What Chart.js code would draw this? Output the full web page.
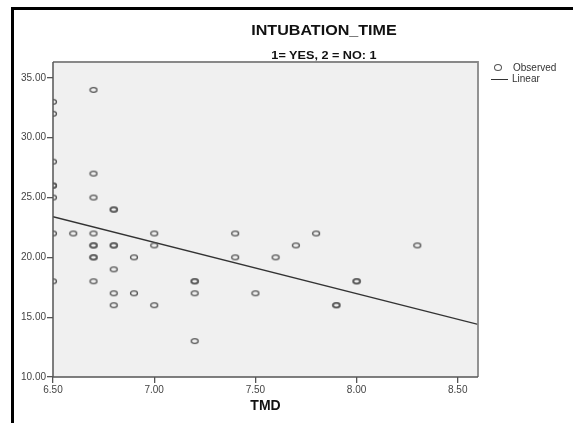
<!DOCTYPE html>
<html>
<head>
<meta charset="utf-8">
<script src="https://cdn.jsdelivr.net/npm/chart.js@4"></script>
<style>
  html, body { margin: 0; padding: 0; background: #fff; }
  body { width: 573px; height: 423px; position: relative; overflow: hidden; font-family: "Liberation Sans", Arial, sans-serif; }
  #frame { position: absolute; left: 11px; top: 7px; width: 620px; height: 500px; border: 3px solid #000; box-sizing: border-box; }
  #chart { position: absolute; left: 0; top: 0; }
  .title { position: absolute; left: 174px; width: 300px; text-align: center; font-weight: bold; color: #111; transform: scaleX(1.15); }
  #t1 { top: 21px; font-size: 14px; line-height: 18px; }
  #t2 { top: 48px; font-size: 11px; line-height: 14px; }
  .leg { position: absolute; font-size: 10px; line-height: 12px; color: #333; }
  .dot { position: absolute; left: 494px; top: 64px; width: 6px; height: 5px; border: 1.3px solid #555; border-radius: 50%; }
  .dash { position: absolute; left: 491px; top: 79px; width: 17px; height: 0; border-top: 1.3px solid #333; }
</style>
</head>
<body>
<div id="frame"></div>
<canvas id="chart" width="573" height="423"></canvas>
<div class="title" id="t1">INTUBATION_TIME</div>
<div class="title" id="t2">1= YES, 2 = NO: 1</div>
<div class="dot"></div>
<div class="leg" style="left:513px; top:62px;">Observed</div>
<div class="dash"></div>
<div class="leg" style="left:512px; top:73px;">Linear</div>
<script>
// Observed points (TMD vs intubation time)
const tmd = [
  6.5, 6.5, 6.5, 6.5, 6.5, 6.5, 6.5, 6.5,
  6.6,
  6.7, 6.7, 6.7, 6.7, 6.7, 6.7, 6.7, 6.7, 6.7,
  6.8, 6.8, 6.8, 6.8, 6.8, 6.8, 6.8,
  6.9, 6.9,
  7.0, 7.0, 7.0,
  7.2, 7.2, 7.2, 7.2,
  7.4, 7.4,
  7.5, 7.6, 7.7, 7.8,
  7.9, 7.9,
  8.0, 8.0,
  8.3
]
const intubationTime = [
  33, 32, 28, 26, 26, 25, 22, 18,
  22,
  34, 27, 25, 22, 21, 21, 20, 20, 18,
  24, 24, 21, 21, 19, 17, 16,
  20, 17,
  22, 21, 16,
  18, 18, 17, 13,
  22, 20,
  17, 20, 21, 22,
  16, 16,
  18, 18,
  21
]
// Linear fit line ends
const fitX = [6.5, 8.6]
const fitY = [23.4, 14.4]

const xTicks = [6.5, 7.0, 7.5, 8.0, 8.5]
const yTicks = [10, 15, 20, 25, 30, 35]

// elliptical marker like the original
function makeMarker() {
  const c = document.createElement("canvas")
  c.width = 10
  c.height = 8
  const g = c.getContext("2d")
  g.strokeStyle = "#555"
  g.lineWidth = 1.3
  g.beginPath()
  g.ellipse(5, 4, 3.5, 2.4, 0, 0, Math.PI * 2)
  g.stroke()
  return c
}

const plotBox = {
  id: "plotBox",
  beforeDraw(chart) {
    const { ctx, chartArea: a } = chart
    ctx.save()
    ctx.fillStyle = "#f0f0f0"
    ctx.fillRect(a.left, a.top, a.right - a.left, a.bottom - a.top)
    ctx.restore()
  },
  afterDatasetsDraw(chart) {
    const { ctx, chartArea: a } = chart
    ctx.save()
    ctx.strokeStyle = "#888"
    ctx.lineWidth = 1.8
    ctx.beginPath()
    ctx.moveTo(a.left, a.top)
    ctx.lineTo(a.right, a.top)
    ctx.lineTo(a.right, a.bottom)
    ctx.stroke()
    ctx.strokeStyle = "#555"
    ctx.lineWidth = 1.5
    ctx.beginPath()
    ctx.moveTo(a.left, a.top)
    ctx.lineTo(a.left, a.bottom)
    ctx.lineTo(a.right, a.bottom)
    ctx.stroke()
    ctx.restore()
  }
}

const tickFont = { family: "'Liberation Sans', Arial, sans-serif", size: 10 }

new Chart(document.getElementById("chart"), {
  type: "scatter",
  data: {
    datasets: [
      {
        label: "Observed",
        data: tmd.map((x, i) => ({ x: x, y: intubationTime[i] })),
        pointStyle: makeMarker(),
        pointRadius: 4
      },
      {
        label: "Linear",
        type: "line",
        data: fitX.map((x, i) => ({ x: x, y: fitY[i] })),
        borderColor: "#333",
        borderWidth: 1.4,
        pointRadius: 0,
        fill: false
      }
    ]
  },
  options: {
    responsive: false,
    animation: false,
    layout: { padding: { left: 0, top: 62, right: 95, bottom: 0 } },
    plugins: { legend: { display: false }, tooltip: { enabled: false } },
    scales: {
      x: {
        type: "linear",
        min: 6.5,
        max: 8.6,
        afterBuildTicks: (s) => { s.ticks = xTicks.map((v) => ({ value: v })) },
        afterFit: (s) => { s.height = 46 },
        border: { display: false },
        grid: { drawOnChartArea: false, drawTicks: true, tickLength: 6, color: "#555", lineWidth: 1.3 },
        ticks: { color: "#444", font: tickFont, padding: 1, maxRotation: 0, callback: (v) => Number(v).toFixed(2) },
        title: {
          display: true,
          text: "TMD",
          color: "#111",
          font: { family: "'Liberation Sans', Arial, sans-serif", size: 14, weight: "bold" },
          padding: { top: 0, bottom: 8 }
        }
      },
      y: {
        type: "linear",
        min: 10,
        max: 36.33,
        afterBuildTicks: (s) => { s.ticks = yTicks.map((v) => ({ value: v })) },
        afterFit: (s) => { s.width = 53 },
        border: { display: false },
        grid: { drawOnChartArea: false, drawTicks: true, tickLength: 6, color: "#555", lineWidth: 1.3 },
        ticks: { color: "#444", font: tickFont, padding: 1, callback: (v) => Number(v).toFixed(2) }
      }
    }
  },
  plugins: [plotBox]
})
</script>
</body>
</html>
